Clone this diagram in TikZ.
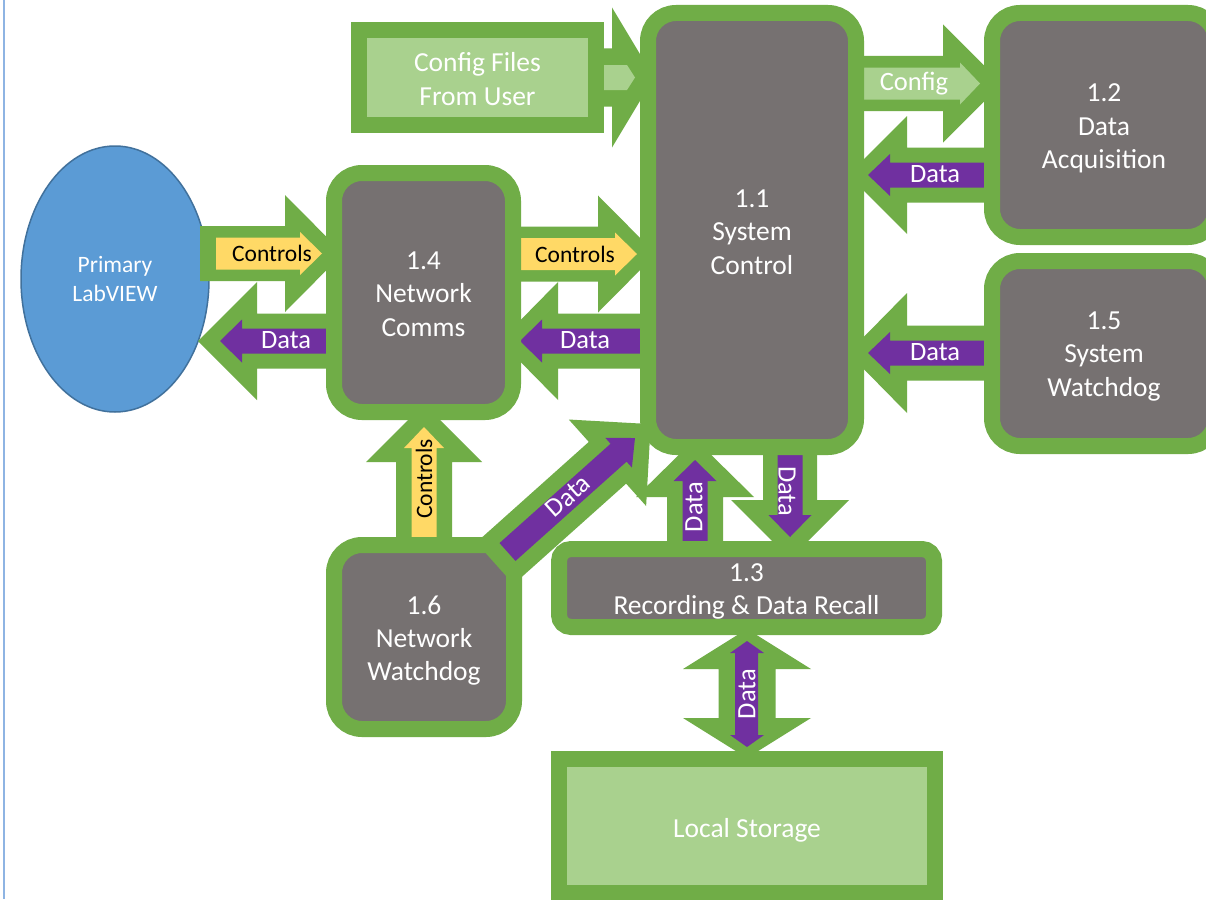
\documentclass[tikz,border=0pt]{standalone}
\usepackage{fontspec}
\setmainfont{Carlito}
\usetikzlibrary{shapes.geometric}

\definecolor{gframe}{HTML}{70AD47}
\definecolor{boxgray}{HTML}{767171}
\definecolor{lightg}{HTML}{A9D18E}
\definecolor{datfill}{HTML}{7030A0}
\definecolor{ctlfill}{HTML}{FFD966}
\definecolor{lvblue}{HTML}{5B9BD5}
\definecolor{lvborder}{HTML}{41719C}
\definecolor{edgeline}{HTML}{8EB4E3}

\newcommand\bxfont{\fontsize{27.5}{33.3}\selectfont}
\newcommand\ctlfont{\fontsize{23.5}{28}\selectfont}
\newcommand\datfont{\fontsize{26.5}{30}\selectfont}

% block arrow: #1 tail, #2 direction, #3 length, #4 shaft half width,
% #5 head half width, #6 head length, #7 fill colour
\newcommand\blockarr[7]{%
  \fill[#7,shift={#1},rotate=#2]
    (0,-#4) -- ({#3-#6},-#4) -- ({#3-#6},-#5) -- (#3,0)
    -- ({#3-#6},#5) -- ({#3-#6},#4) -- (0,#4) -- cycle;}

\begin{document}
\begin{tikzpicture}[x=1pt,y=-1pt,
  gbox/.style={draw=gframe, line width=16pt, fill=boxgray, rounded corners=#1,
    inner sep=0pt},
  lbox/.style={draw=gframe, line width=16pt, fill=lightg, inner sep=0pt},
  boxtxt/.style={text=white, align=center, font=\bxfont, inner sep=0pt},
  ctl/.style={text=black, font=\ctlfont, inner sep=0pt},
  dat/.style={text=white, font=\datfont, inner sep=0pt}]

\useasboundingbox (0,0) rectangle (1206,899);
\clip (0,0) rectangle (1206,899);
\fill[white] (0,0) rectangle (1206,899);
\draw[edgeline, line width=2pt] (4,0) -- (4,899);

% external system
\node[ellipse, draw=lvborder, fill=lvblue, line width=1.5pt, inner sep=0pt,
  minimum width=188pt, minimum height=266pt, text=white, align=center,
  font=\fontsize{23.5}{29}\selectfont] (lv) at (115,279) {Primary\\LabVIEW};

% flows drawn beneath the process boxes
% LabVIEW -> 1.4 controls
\blockarr{(200,253.5)}{0}{143}{27.5}{58.5}{58}{gframe}
\blockarr{(216,253.5)}{0}{106}{16}{21.5}{22}{ctlfill}
% 1.4 -> LabVIEW data
\blockarr{(330,341)}{180}{132}{27.5}{59}{59}{gframe}
\blockarr{(326,341)}{180}{106}{12.5}{21.5}{22}{datfill}
% 1.4 -> 1.1 controls
\blockarr{(515,254)}{0}{141}{27.5}{58.5}{58}{gframe}
\blockarr{(515,254)}{0}{122}{16}{21.5}{22}{ctlfill}
% 1.1 -> 1.4 data
\blockarr{(645,341)}{180}{145}{27.5}{59}{58}{gframe}
\blockarr{(645,341)}{180}{125}{12.5}{21.5}{22}{datfill}
% 1.1 -> 1.2 config
\blockarr{(860,83.5)}{0}{142}{27.5}{59}{59}{gframe}
\blockarr{(860,83.5)}{0}{120}{16}{21}{20}{lightg}
% 1.2 -> 1.1 data
\blockarr{(990,175)}{180}{142}{27.5}{59}{59}{gframe}
\blockarr{(990,175)}{180}{122}{12.5}{21}{22}{datfill}
% 1.5 -> 1.1 data
\blockarr{(990,353)}{180}{142}{27.5}{60}{59}{gframe}
\blockarr{(990,353)}{180}{122}{12.5}{21}{22}{datfill}
% config files -> 1.1
\blockarr{(600,77.5)}{0}{54}{29}{70}{42}{gframe}
\blockarr{(600,77.5)}{0}{35}{12.5}{12.5}{8}{lightg}
% 1.6 -> 1.4 controls
\blockarr{(424,545)}{90}{141}{28}{58}{58}{gframe}
\blockarr{(424,545)}{90}{118}{12.5}{20}{21}{ctlfill}
% 1.3 -> 1.1 data
\blockarr{(695,545)}{90}{106}{28}{59}{58}{gframe}
\blockarr{(695,545)}{90}{85}{12.5}{21.5}{21}{datfill}
% 1.1 -> 1.3 data
\blockarr{(790,450)}{-90}{109}{27}{59}{59}{gframe}
\blockarr{(790,450)}{-90}{87}{12.5}{21.5}{22}{datfill}
% 1.3 <-> local storage
\fill[gframe] (747,629) -- (811,669) -- (775.5,669) -- (775.5,718) -- (811,718)
  -- (747,758) -- (683,718) -- (718.5,718) -- (718.5,669) -- (683,669) -- cycle;
\fill[datfill] (747,641) -- (764,653) -- (758,653) -- (758,735) -- (764,735)
  -- (747,747) -- (730,735) -- (735,735) -- (735,653) -- (730,653) -- cycle;

% process boxes
\node[lbox, minimum width=237pt, minimum height=95pt,
  label={[boxtxt, yshift=-1.5pt]center:{Config Files\\From User}}] (cfg) at (477.5,77.5) {};
\node[gbox=28pt, minimum width=208pt, minimum height=434pt,
  label={[boxtxt, yshift=-2pt]center:{1.1\\System\\Control}}] (n11) at (752,230) {};
\node[gbox=28pt, minimum width=224pt, minimum height=224pt,
  label={[boxtxt, yshift=-3.5pt]center:{1.2\\Data\\Acquisition}}] (n12) at (1104,125) {};
\node[gbox=28pt, minimum width=224pt, minimum height=185pt,
  label={[boxtxt, yshift=-3pt]center:{1.5\\System\\Watchdog}}] (n15) at (1104,353.5) {};
\node[gbox=28pt, minimum width=179pt, minimum height=239pt,
  label={[boxtxt, yshift=-1.5pt]center:{1.4\\Network\\Comms}}] (n14) at (423.5,292.5) {};
\node[gbox=28pt, minimum width=180pt, minimum height=184pt,
  label={[boxtxt, yshift=-3.5pt]center:{1.6\\Network\\Watchdog}}] (n16) at (424,637) {};
\node[gbox=12pt, minimum width=375pt, minimum height=78pt,
  label={[boxtxt, yshift=-3.5pt]center:{1.3\\Recording \& Data Recall}}] (n13) at (746.5,588) {};
\node[lbox, minimum width=376pt, minimum height=134pt,
  label={[boxtxt, yshift=-4pt]center:{Local Storage}}] (store) at (747,826) {};

% 1.6 -> 1.1 data, laid over the corner of 1.6
\blockarr{(494.9,563.4)}{41.8}{209}{28}{58}{58}{gframe}
\blockarr{(507.5,552)}{41.8}{171}{12}{20}{22}{datfill}

% flow labels
\node[ctl] (tA) at (272,253) {Controls};
\node[ctl] (tC) at (575,254) {Controls};
\node[ctl, rotate=90] (tI) at (424,479) {Controls};
\node[dat] (tB) at (286,340) {Data};
\node[dat] (tD) at (585,340) {Data};
\node[dat] (tE) at (914,84) {Config};
\node[dat] (tF) at (935,174) {Data};
\node[dat] (tG) at (935,352) {Data};
\node[dat, rotate=41.8] (tJ) at (568,496) {Data};
\node[dat, rotate=90] (tK) at (694,507) {Data};
\node[dat, rotate=-90] (tL) at (787,491) {Data};
\node[dat, rotate=90] (tM) at (747,694) {Data};
\end{tikzpicture}
\end{document}
